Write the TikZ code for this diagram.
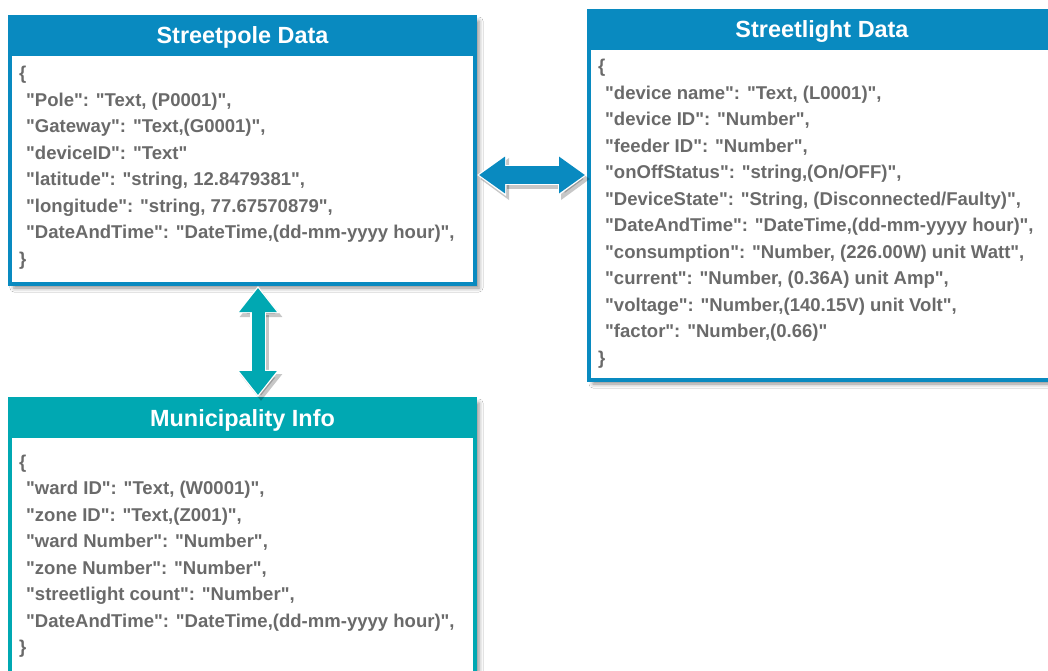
\documentclass[tikz,border=0pt]{standalone}
\usepackage{fontspec}
\setmainfont{Liberation Sans}[Ligatures=TeXOff]
\usetikzlibrary{arrows.meta,calc,shadows.blur}
\definecolor{sblue}{RGB}{9,138,192}
\definecolor{steal}{RGB}{0,168,178}
\definecolor{tgray}{RGB}{106,106,106}
\newcommand\ind{\hspace*{7bp}}
\tikzset{
  box/.style={draw=#1, line width=4bp, fill=white, inner sep=0pt,
    blur shadow={shadow xshift=4bp, shadow yshift=-4bp, shadow blur radius=4bp, shadow opacity=45}},
  hdr/.style={fill=#1, text=white, font=\fontsize{23.5}{28}\selectfont\bfseries,
    inner sep=0pt, outer sep=0pt, anchor=north, minimum height=41bp,
    text height=17bp, text depth=0bp},
  body/.style={text=tgray, font=\fontsize{18.6}{26.6}\selectfont\bfseries,
    align=left, inner sep=0pt, anchor=north west},
  arrshadow/.style={black, opacity=0.22, line width=#1,
    transform canvas={shift={(3bp,-4bp)}}},
}
\begin{document}
\begin{tikzpicture}[x=1bp,y=-1bp]
\useasboundingbox (0,0) rectangle (1048,671);
\fill[white] (0,0) rectangle (1048,671);
\clip (0,0) rectangle (1048,671);

% boxes
\node[box=sblue, minimum width=465bp, minimum height=267bp] (pole) at (242.5,150.5) {};
\node[hdr=sblue, minimum width=469bp] (poleh) at (pole.north) {Streetpole Data};
\node[body] (polet) at ($(pole.north west)+(11,45.8)$) {\strut\{\\
\ind"Pole": "Text, (P0001)",\\
\ind"Gateway": "Text,(G0001)",\\
\ind"deviceID": "Text"\\
\ind"latitude": "string, 12.8479381",\\
\ind"longitude": "string, 77.67570879",\\
\ind"DateAndTime": "DateTime,(dd-mm-yyyy hour)",\\
\}};

\node[box=sblue, minimum width=466bp, minimum height=369bp] (light) at (822,195.5) {};
\node[hdr=sblue, minimum width=470bp] (lighth) at (light.north) {Streetlight Data};
\node[body] (lightt) at ($(light.north west)+(11,45)$) {\strut\{\\
\ind"device name": "Text, (L0001)",\\
\ind"device ID": "Number",\\
\ind"feeder ID": "Number",\\
\ind"onOffStatus": "string,(On/OFF)",\\
\ind"DeviceState": "String, (Disconnected/Faulty)",\\
\ind"DateAndTime": "DateTime,(dd-mm-yyyy hour)",\\
\ind"consumption": "Number, (226.00W) unit Watt",\\
\ind"current": "Number, (0.36A) unit Amp",\\
\ind"voltage": "Number,(140.15V) unit Volt",\\
\ind"factor": "Number,(0.66)"\\
\}};

\node[box=steal, minimum width=465bp, minimum height=299bp] (muni) at (242.5,548.5) {};
\node[hdr=steal, minimum width=469bp] (munih) at (muni.north) {Municipality Info};
\node[body] (munit) at ($(muni.north west)+(11,52.4)$) {\strut\{\\
\ind"ward ID": "Text, (W0001)",\\
\ind"zone ID": "Text,(Z001)",\\
\ind"ward Number": "Number",\\
\ind"zone Number": "Number",\\
\ind"streetlight count": "Number",\\
\ind"DateAndTime": "DateTime,(dd-mm-yyyy hour)",\\
\}};

% connectors
\coordinate (hy) at (0,175);
\coordinate (vx) at (258,0);

\draw[arrshadow=20bp, arrows={Triangle[length=29bp,width=40bp]-Triangle[length=29bp,width=40bp]}]
  (pole.east |- hy) -- (light.west |- hy);
\draw[white, line width=20bp, arrows={Triangle[length=29bp,width=40bp]-Triangle[length=29bp,width=40bp]}]
  (pole.east |- hy) -- (light.west |- hy);
\draw[sblue, line width=17bp, shorten <=2bp, shorten >=2bp,
  arrows={Triangle[length=26bp,width=35bp]-Triangle[length=26bp,width=35bp]}]
  (pole.east |- hy) -- (light.west |- hy);

\draw[arrshadow=16bp, arrows={Triangle[length=27bp,width=41bp]-Triangle[length=27bp,width=41bp]}]
  (pole.south -| vx) -- (muni.north -| vx);
\draw[white, line width=16bp, arrows={Triangle[length=27bp,width=41bp]-Triangle[length=27bp,width=41bp]}]
  (pole.south -| vx) -- (muni.north -| vx);
\draw[steal, line width=13bp, shorten <=2bp, shorten >=2bp,
  arrows={Triangle[length=24bp,width=36bp]-Triangle[length=24bp,width=36bp]}]
  (pole.south -| vx) -- (muni.north -| vx);
\end{tikzpicture}
\end{document}
